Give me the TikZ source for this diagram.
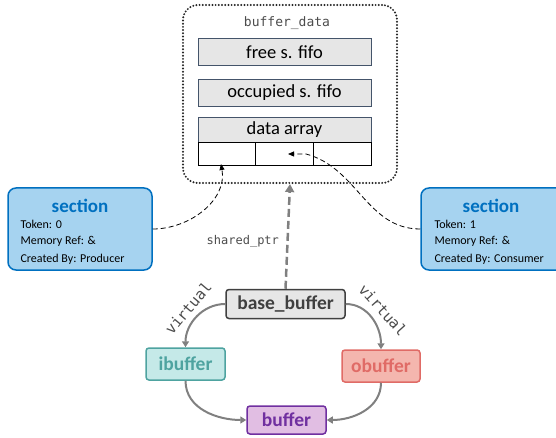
\documentclass[tikz,border=0pt]{standalone}
\usepackage{fontspec}
\setmainfont{Carlito}
\setmonofont{DejaVu Sans Mono}
\usetikzlibrary{arrows.meta,positioning,calc}

\definecolor{boxgray}{HTML}{E6E6E6}
\definecolor{slate}{HTML}{44546A}
\definecolor{secfill}{HTML}{A6D3F0}
\definecolor{secblue}{HTML}{0070C0}
\definecolor{tealfill}{HTML}{C5E9E8}
\definecolor{tealline}{HTML}{4EA3A0}
\definecolor{redfill}{HTML}{F4B6AE}
\definecolor{redline}{HTML}{E06B66}
\definecolor{purpfill}{HTML}{E1BEE3}
\definecolor{purpline}{HTML}{7030A0}
\definecolor{arrgray}{HTML}{808080}

\begin{document}
\begin{tikzpicture}[x=1pt, y=-1pt,
  field/.style={draw=slate, fill=boxgray, minimum width=173pt, minimum height=27pt, inner sep=0pt, font=\fontsize{18.5}{20}\selectfont},
  cell/.style={draw=black, fill=white, minimum height=23pt, inner sep=0pt},
  secbox/.style={draw=secblue, fill=secfill, line width=1.5pt, rounded corners=8pt, minimum width=144pt, minimum height=82pt, inner sep=0pt},
  sectitle/.style={font=\bfseries\fontsize{19}{21}\selectfont, text=secblue},
  sectext/.style={anchor=west, font=\fontsize{12}{14}\selectfont},
  cls/.style={rounded corners=3pt, line width=1.5pt, minimum height=29pt, inner sep=0pt, font=\bfseries\fontsize{19.5}{21}\selectfont},
  inh/.style={-{Triangle[length=6pt,width=7pt]}, arrgray, line width=2pt},
  ref/.style={-{Triangle[length=6pt,width=5pt]}, black, thick, dash pattern=on 5pt off 3pt},
  code/.style={font=\ttfamily\fontsize{12}{14}\selectfont, text=black!70}
]
\useasboundingbox (0,0) rectangle (556,438);

% buffer data container
\node[draw=black!85, line width=2.2pt, dash pattern=on 0pt off 3.2pt, line cap=round, rounded corners=15pt, minimum width=214pt, minimum height=178pt] (bdata) at (290,94) {};
\node[code, font=\ttfamily\fontsize{13}{15}\selectfont] (bdname) at (287,23) {buffer\_data};
\node[field] (free) at (284.5,52) {free s. fifo};
\node[field] (occ) at (284.5,93) {occupied s. fifo};
\node[field, minimum height=25pt] (darray) at (284.5,129.5) {data array};
\node[cell, minimum width=57pt] (c1) at (226.5,153.5) {};
\node[cell, minimum width=58pt] (c2) at (284,153.5) {};
\node[cell, minimum width=58pt] (c3) at (342,153.5) {};

% sections
\node[secbox] (secL) at (80,229) {};
\node[sectitle] (secLt) at (80,206) {section};
\node[sectext] (secL1) at (17,224) {Token: 0};
\node[sectext] (secL2) at (17,241) {Memory Ref: \&};
\node[sectext] (secL3) at (17,259) {Created By: Producer};

\node[secbox] (secR) at (493,229) {};
\node[sectitle] (secRt) at (491,206) {section};
\node[sectext] (secR1) at (431,224) {Token: 1};
\node[sectext] (secR2) at (431,241) {Memory Ref: \&};
\node[sectext] (secR3) at (431,259) {Created By: Consumer};

\coordinate (tipL) at (221,164);
\coordinate (tipR) at (288,154);
\draw[ref] (secL.east) to[out=0, in=-80] (tipL);
\draw[ref] (secR.west) to[out=180, in=-15] ($(tipR)+(18,0)$) -- (tipR);

% class hierarchy
\node[cls, draw=black!75, fill=boxgray, text=black!75, minimum width=119pt] (base) at (285.5,304) {base\_buffer};
\node[cls, draw=tealline, fill=tealfill, text=tealline, minimum width=79pt, minimum height=32pt] (ibuf) at (185.5,364) {ibuffer};
\node[cls, draw=redline, fill=redfill, text=redline, minimum width=78pt, minimum height=32pt] (obuf) at (381,366) {obuffer};
\node[cls, draw=purpline, fill=purpfill, text=purpline, minimum width=79pt, minimum height=28pt] (buf) at (286.5,420) {buffer};

\draw[-{Triangle[length=8pt,width=9pt]}, arrgray, line width=2.5pt, dash pattern=on 8pt off 4pt] (base.north) -- (bdata.south) node[code, pos=0.45, left=4pt] (sptr) {shared\_ptr};

\draw[inh] (base.west) to[out=180, in=90] (ibuf.north);
\draw[inh] (base.east) to[out=0, in=90] (obuf.north);
\draw[inh] (ibuf.south) to[out=-90, in=180] (buf.west);
\draw[inh] (obuf.south) to[out=-90, in=0] (buf.east);
\node[code, font=\ttfamily\fontsize{15}{17}\selectfont, rotate=50] (virtL) at (188,308) {virtual};
\node[code, font=\ttfamily\fontsize{15}{17}\selectfont, rotate=-48] (virtR) at (383,310) {virtual};
\end{tikzpicture}
\end{document}
